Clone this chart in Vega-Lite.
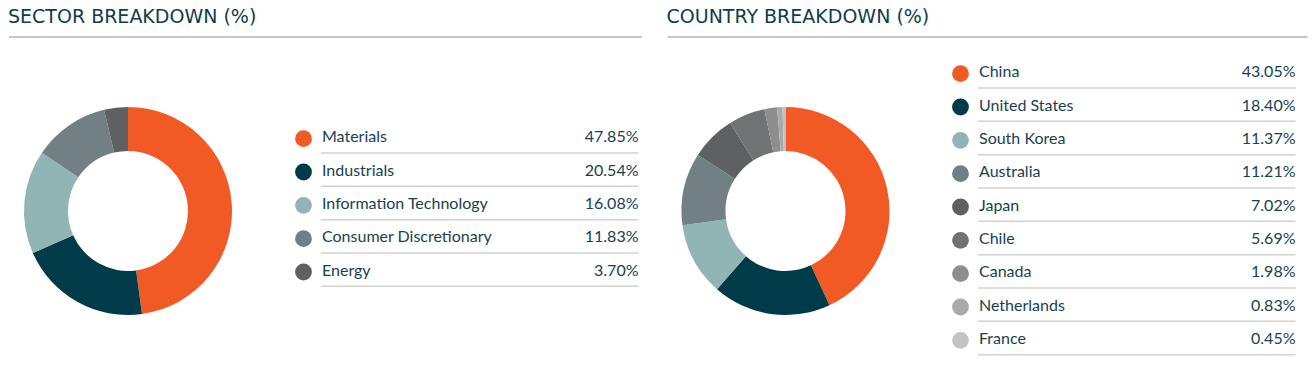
{
  "$schema": "https://vega.github.io/schema/vega-lite/v6.json",
  "padding": {"left": 8, "top": 7, "right": 0, "bottom": 0},
  "background": "white",
  "config": {"view": {"stroke": null}},
  "datasets": {
    "sector": [
      {"name": "Materials", "value": 0.4785},
      {"name": "Industrials", "value": 0.2054},
      {"name": "Information Technology", "value": 0.1608},
      {"name": "Consumer Discretionary", "value": 0.1183},
      {"name": "Energy", "value": 0.0370}
    ],
    "country": [
      {"name": "China", "value": 0.4305},
      {"name": "United States", "value": 0.1840},
      {"name": "South Korea", "value": 0.1137},
      {"name": "Australia", "value": 0.1121},
      {"name": "Japan", "value": 0.0702},
      {"name": "Chile", "value": 0.0569},
      {"name": "Canada", "value": 0.0198},
      {"name": "Netherlands", "value": 0.0083},
      {"name": "France", "value": 0.0045}
    ],
    "one": [{}]
  },
  "spacing": 19,
  "vconcat": [
    {
      "spacing": 23.5,
      "hconcat": [
        {
          "width": 633, "height": 2,
          "title": {"text": "SECTOR BREAKDOWN (%)", "anchor": "start", "baseline": "alphabetic", "offset": -5.5, "fontSize": 19, "font": "DejaVu Sans", "fontWeight": "normal", "color": "#0d3e4b"},
          "data": {"name": "one"},
          "mark": {"type": "rule", "color": "#c6c6c6", "strokeWidth": 2},
          "encoding": {"y": {"value": 1}}
        },
        {
          "width": 640, "height": 2,
          "title": {"text": "COUNTRY BREAKDOWN (%)", "anchor": "start", "baseline": "alphabetic", "offset": -5.5, "fontSize": 19, "font": "DejaVu Sans", "fontWeight": "normal", "color": "#0d3e4b"},
          "data": {"name": "one"},
          "mark": {"type": "rule", "color": "#c6c6c6", "strokeWidth": 2},
          "encoding": {"y": {"value": 1}}
        }
      ]
    },
    {
      "spacing": 27,
      "hconcat": [
        {
          "spacing": 47,
          "hconcat": [
            {
              "width": 238, "height": 308,
              "data": {"name": "sector"},
              "mark": {"type": "arc", "innerRadius": 60, "outerRadius": 104},
              "encoding": {
                "theta": {"field": "value", "type": "quantitative", "stack": true},
                "order": {"field": "value", "sort": "descending"},
                "color": {"field": "name", "type": "nominal", "legend": null,
                  "scale": {"domain": ["Materials", "Industrials", "Information Technology", "Consumer Discretionary", "Energy"],
                            "range": ["#f15a24", "#003b4a", "#91b4b4", "#738083", "#5f6062"]}}
              }
            },
            {
              "width": 344.5, "height": 308,
              "data": {"name": "sector"},
              "encoding": {
                "y": {"field": "name", "type": "nominal", "sort": null, "axis": null,
                  "scale": {"type": "band", "paddingInner": 0, "paddingOuter": 0, "range": [65, 231.67], "round": false}}
              },
              "layer": [
                {
                  "mark": {"type": "rule", "color": "#d2d2d2", "strokeWidth": 1.5},
                  "encoding": {
                    "y": {"field": "name", "type": "nominal", "sort": null, "axis": null, "bandPosition": 0.93,
                      "scale": {"type": "band", "paddingInner": 0, "paddingOuter": 0, "range": [65, 231.67], "round": false}},
                    "x": {"value": 27},
                    "x2": {"value": 344.5}
                  }
                },
                {
                  "mark": {"type": "point", "shape": "circle", "filled": true, "size": 283, "opacity": 1},
                  "encoding": {
                    "x": {"value": 9.5},
                    "color": {"field": "name", "type": "nominal", "legend": null,
                      "scale": {"domain": ["Materials", "Industrials", "Information Technology", "Consumer Discretionary", "Energy"],
                                "range": ["#f15a24", "#003b4a", "#91b4b4", "#738083", "#5f6062"]}}
                  }
                },
                {
                  "mark": {"type": "text", "align": "left", "baseline": "alphabetic", "dy": 3.5, "font": "Lato", "fontSize": 16, "color": "#17424f"},
                  "encoding": {
                    "x": {"value": 28},
                    "text": {"field": "name"}
                  }
                },
                {
                  "mark": {"type": "text", "align": "right", "baseline": "alphabetic", "dy": 3.5, "font": "Lato", "fontSize": 16, "color": "#17424f"},
                  "encoding": {
                    "x": {"value": 344.5},
                    "text": {"field": "value", "format": ".2%"}
                  }
                }
              ]
            }
          ],
          "resolve": {"scale": {"color": "independent", "y": "independent", "theta": "independent"}}
        },
        {
          "spacing": 47,
          "hconcat": [
            {
              "width": 237, "height": 308,
              "data": {"name": "country"},
              "mark": {"type": "arc", "innerRadius": 60, "outerRadius": 104},
              "encoding": {
                "theta": {"field": "value", "type": "quantitative", "stack": true},
                "order": {"field": "value", "sort": "descending"},
                "color": {"field": "name", "type": "nominal", "legend": null,
                  "scale": {"domain": ["China", "United States", "South Korea", "Australia", "Japan", "Chile", "Canada", "Netherlands", "France"],
                            "range": ["#f15a24", "#003b4a", "#91b4b4", "#738083", "#5f6062", "#717273", "#8e8e8f", "#aaaaaa", "#c3c3c3"]}}
              }
            },
            {
              "width": 344.5, "height": 308,
              "data": {"name": "country"},
              "encoding": {
                "y": {"field": "name", "type": "nominal", "sort": null, "axis": null,
                  "scale": {"type": "band", "paddingInner": 0, "paddingOuter": 0.12, "align": 0, "round": false}}
              },
              "layer": [
                {
                  "mark": {"type": "rule", "color": "#d2d2d2", "strokeWidth": 1.5},
                  "encoding": {
                    "y": {"field": "name", "type": "nominal", "sort": null, "axis": null, "bandPosition": 0.93,
                      "scale": {"type": "band", "paddingInner": 0, "paddingOuter": 0.12, "align": 0, "round": false}},
                    "x": {"value": 27},
                    "x2": {"value": 344.5}
                  }
                },
                {
                  "mark": {"type": "point", "shape": "circle", "filled": true, "size": 283, "opacity": 1},
                  "encoding": {
                    "x": {"value": 9.5},
                    "color": {"field": "name", "type": "nominal", "legend": null,
                      "scale": {"domain": ["China", "United States", "South Korea", "Australia", "Japan", "Chile", "Canada", "Netherlands", "France"],
                                "range": ["#f15a24", "#003b4a", "#91b4b4", "#738083", "#5f6062", "#717273", "#8e8e8f", "#aaaaaa", "#c3c3c3"]}}
                  }
                },
                {
                  "mark": {"type": "text", "align": "left", "baseline": "alphabetic", "dy": 3.5, "font": "Lato", "fontSize": 16, "color": "#17424f"},
                  "encoding": {
                    "x": {"value": 28},
                    "text": {"field": "name"}
                  }
                },
                {
                  "mark": {"type": "text", "align": "right", "baseline": "alphabetic", "dy": 3.5, "font": "Lato", "fontSize": 16, "color": "#17424f"},
                  "encoding": {
                    "x": {"value": 344.5},
                    "text": {"field": "value", "format": ".2%"}
                  }
                }
              ]
            }
          ],
          "resolve": {"scale": {"color": "independent", "y": "independent", "theta": "independent"}}
        }
      ],
      "resolve": {"scale": {"color": "independent", "y": "independent", "theta": "independent"}}
    }
  ],
  "resolve": {"scale": {"color": "independent", "y": "independent", "theta": "independent"}}
}
